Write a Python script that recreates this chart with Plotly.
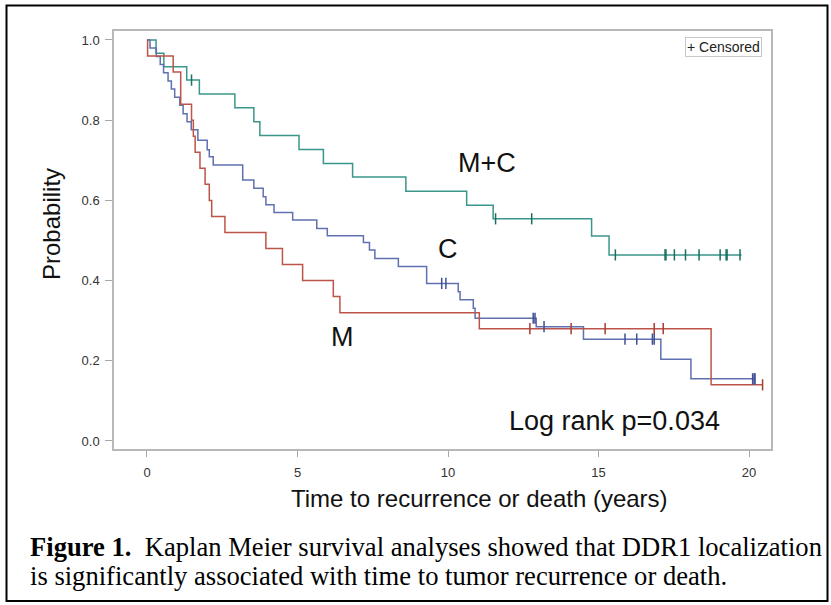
import numpy as np
import plotly.graph_objects as go

# ---------------- data ----------------
# M+C group (green)
mc_time = [0, 0.30, 0.56, 1.32, 1.74, 2.92, 3.55, 3.75, 5.05, 5.86, 6.83, 8.60, 10.62, 11.50, 14.77, 15.35, 19.75]
mc_surv = [1.0, 0.967, 0.933, 0.900, 0.865, 0.831, 0.796, 0.762, 0.727, 0.692, 0.658, 0.623, 0.588, 0.554, 0.511, 0.464, 0.464]
mc_cens = [1.48, 11.58, 12.78, 15.56, 17.21, 17.24, 17.52, 17.89, 18.34, 19.04, 19.24, 19.27, 19.70]

# C group (blue)
c_time = [0, 0.10, 0.31, 0.44, 0.55, 0.70, 0.81, 0.92, 1.09, 1.20, 1.33, 1.47, 1.69, 2.00, 2.07, 2.20,
          3.18, 3.55, 3.86, 3.95, 4.22, 4.84, 5.64, 5.99, 7.19, 7.39, 7.57, 8.35, 9.29, 10.34, 10.40,
          10.84, 10.90, 12.93, 14.50, 17.07, 18.07, 20.20]
c_surv = [1.0, 0.980, 0.959, 0.939, 0.918, 0.898, 0.878, 0.857, 0.837, 0.816, 0.796, 0.776, 0.750, 0.726, 0.709, 0.688,
          0.651, 0.630, 0.609, 0.589, 0.570, 0.551, 0.530, 0.512, 0.495, 0.476, 0.455, 0.435, 0.393, 0.372, 0.352,
          0.331, 0.306, 0.285, 0.254, 0.204, 0.155, 0.155]
c_cens = [9.79, 9.93, 12.83, 12.89, 13.19, 15.88, 16.27, 16.79, 16.85, 20.12, 20.17, 20.20]

# M group (red)
m_time = [0, 0.02, 0.87, 1.12, 1.48, 1.54, 1.60, 1.76, 1.93, 2.07, 2.15, 2.59, 3.95, 4.50, 5.17, 6.19, 6.41, 11.04, 18.74, 20.45]
m_surv = [1.0, 0.96, 0.92, 0.84, 0.80, 0.76, 0.72, 0.68, 0.64, 0.60, 0.56, 0.52, 0.48, 0.44, 0.40, 0.36, 0.32, 0.28, 0.14, 0.14]
m_cens = [12.72, 14.09, 15.22, 16.85, 17.15, 20.45]

x_ticks = [0, 5, 10, 15, 20]
y_ticks = [0.0, 0.2, 0.4, 0.6, 0.8, 1.0]

# ---------------- styling ----------------
FONT = "Liberation Sans, Arial, sans-serif"
groups = [
    ("M+C", mc_time, mc_surv, mc_cens, "#3a968a", "#17705f"),
    ("C", c_time, c_surv, c_cens, "#6070b0", "#3f4f95"),
    ("M", m_time, m_surv, m_cens, "#bd5449", "#a83c30"),
]


def surv_at(times, surv, t):
    i = np.searchsorted(np.asarray(times), t, side="right") - 1
    return surv[max(i, 0)]


fig = go.Figure()
for name, t, s, cens, col, ccol in groups:
    fig.add_trace(go.Scatter(x=t, y=s, mode="lines", line=dict(color=col, width=1.5, shape="hv"),
                             name=name, showlegend=False, hoverinfo="skip"))
for name, t, s, cens, col, ccol in groups:
    fig.add_trace(go.Scatter(x=cens, y=[surv_at(t, s, c) for c in cens], mode="markers",
                             marker=dict(symbol="line-ns", size=8, line=dict(color=ccol, width=1.5)),
                             name=name + " censored", showlegend=False, hoverinfo="skip"))

# plot area in pixels: x 114..771, y 31..449
L, R, T, B = 114, 771, 31, 449
W, H = 831, 605


def px(x):
    return (x - L) / (R - L)


def py(y):
    return (B - y) / (B - T)


fig.update_layout(
    width=W, height=H,
    margin=dict(l=L, r=W - R, t=T, b=H - B, pad=0),
    paper_bgcolor="white", plot_bgcolor="white",
    font=dict(family=FONT, color="#333333"),
    xaxis=dict(range=[-1.096, 20.73], tickvals=x_ticks, ticks="outside", ticklen=6, tickwidth=1,
               tickcolor="#a8a8a8", showline=True, mirror=True, linecolor="#b8b8b8", linewidth=1.5,
               showgrid=False, zeroline=False, tickfont=dict(size=13, color="#333333"),
               ticklabelstandoff=5),
    yaxis=dict(range=[-0.02, 1.0224], tickvals=y_ticks, tickformat=".1f", ticks="outside", ticklen=7,
               tickwidth=1, tickcolor="#a8a8a8", showline=True, mirror=True, linecolor="#b8b8b8",
               linewidth=1.5, showgrid=False, zeroline=False, tickfont=dict(size=13, color="#333333"),
               ticklabelstandoff=3),
)

ann = []
ann.append(dict(text="Probability", x=px(51), y=py(224), textangle=-90, font=dict(size=24, color="#111")))
ann.append(dict(text="Time to recurrence or death (years)", x=px(479), y=py(498), font=dict(size=24, color="#111")))
ann.append(dict(text="M+C", x=px(487), y=py(163), font=dict(size=27, color="#111")))
ann.append(dict(text="C", x=px(448), y=py(249), font=dict(size=27, color="#111")))
ann.append(dict(text="M", x=px(342), y=py(337), font=dict(size=27, color="#111")))
ann.append(dict(text="Log rank p=0.034", x=px(614), y=py(421), font=dict(size=27, color="#111")))
ann.append(dict(text="+ Censored", x=px(723.5), y=py(47), font=dict(size=14, color="#222"),
                bordercolor="#c8c8c8", borderwidth=1, borderpad=1, bgcolor="white"))
SERIF = "Liberation Serif, Times New Roman, serif"
ann.append(dict(text="<b>Figure 1.</b>&nbsp; Kaplan Meier survival analyses showed that DDR1 localization",
                x=px(28), y=py(547), xanchor="left", font=dict(size=26.6, color="black", family=SERIF)))
ann.append(dict(text="is significantly associated with time to tumor recurrence or death.",
                x=px(28), y=py(576), xanchor="left", font=dict(size=26.6, color="black", family=SERIF)))
for a in ann:
    a.setdefault("xref", "paper")
    a.setdefault("yref", "paper")
    a.setdefault("showarrow", False)
    a.setdefault("xanchor", "center")
    a.setdefault("yanchor", "middle")
fig.update_layout(annotations=ann)

fig.add_shape(type="rect", xref="paper", yref="paper", x0=px(6.5), x1=px(827.5), y0=py(601), y1=py(5.5),
              line=dict(color="black", width=2), fillcolor="rgba(0,0,0,0)", layer="above")

fig.write_html("out.html", config={"displayModeBar": False},
               post_script="document.body.style.margin='0';document.body.style.overflow='hidden';")
